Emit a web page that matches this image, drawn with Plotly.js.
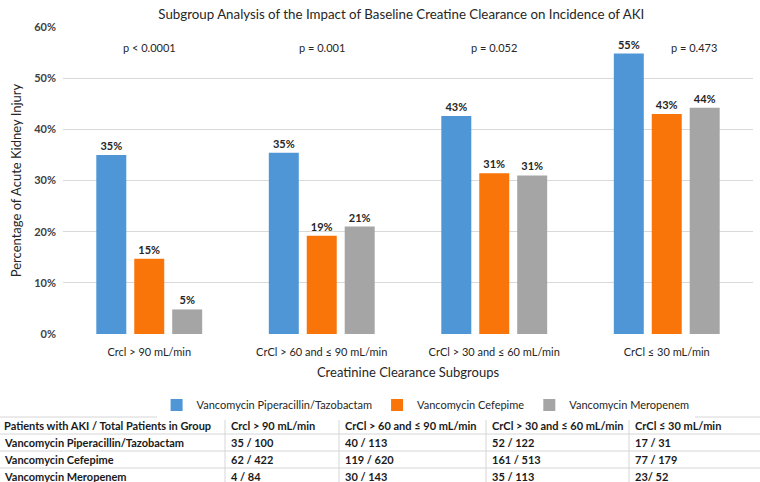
<!DOCTYPE html>
<html>
<head>
<meta charset="utf-8">
<script src="https://cdn.plot.ly/plotly-3.0.1.min.js"></script>
<style>html,body{margin:0;padding:0;background:#fff;}#chart{width:760px;height:482px;}</style>
</head>
<body>
<div id="chart"></div>
<script>
// Categories (x tick labels)
const categories = ["Crcl > 90 mL/min", "CrCl > 60 and \u2264 90 mL/min", "CrCl > 30 and \u2264 60 mL/min", "CrCl \u2264 30 mL/min"];
// Series names
const seriesNames = ["Vancomycin Piperacillin/Tazobactam", "Vancomycin Cefepime", "Vancomycin Meropenem"];
// Percentage of AKI per series
const pipTazPct = [35.0, 35.4, 42.6, 54.8];
const cefepimePct = [14.7, 19.2, 31.4, 43.0];
const meropenemPct = [4.8, 21.0, 31.0, 44.2];
// p-values per subgroup
const pValues = ["p < 0.0001", "p = 0.001", "p = 0.052", "p = 0.473"];
// Table contents
const tableCorner = "Patients with AKI / Total Patients in Group";
const pipTazCounts = ["35 / 100", "40 / 113", "52 / 122", "17 / 31"];
const cefepimeCounts = ["62 / 422", "119 / 620", "161 / 513", "77 / 179"];
const meropenemCounts = ["4 / 84", "30 / 143", "35 / 113", "23/ 52"];

const colors = ["#4f96d6", "#f97409", "#a5a5a5"];
const FONT = "Lato, 'Open Sans', sans-serif";
const W = 760, H = 482, MT = 27;
const allPct = [pipTazPct, cefepimePct, meropenemPct];

const traces = allPct.map((vals, i) => ({
  type: "bar",
  name: seriesNames[i],
  x: categories,
  y: vals,
  marker: {color: colors[i]},
  texttemplate: "%{y:.0f}%",
  textposition: "outside",
  cliponaxis: false,
  textfont: {family: FONT, size: 11, color: "#262626", weight: "bold"},
  hoverinfo: "skip"
}));

const annotations = pValues.map((p, i) => ({
  x: categories[i],
  y: 56,
  xref: "x",
  yref: "y",
  text: p,
  showarrow: false,
  xshift: i === 3 ? 27 : 0,
  font: {family: FONT, size: 11, color: "#262626"}
}));

// ---- table under the legend, built from the arrays above ----
const px = x => x / W;
const py = y => (H - y) / (H - MT);
const colEdges = [0, 225, 339, 486, 629, 760];   // layout (pixels)
const rowTop = 417, rowH = 17;
const countCols = [pipTazCounts, cefepimeCounts, meropenemCounts];
const tableRows = [[tableCorner].concat(categories)];
seriesNames.forEach((name, r) => {
  tableRows.push([name].concat(countCols[r]));
});
const shapes = [];
tableRows.forEach((row, r) => {
  row.forEach((txt, c) => {
    annotations.push({
      xref: "paper", yref: "paper",
      x: px(colEdges[c] + (c === 0 ? 2 : 4)),
      y: py(rowTop + r * rowH + rowH / 2),
      xanchor: "left", yanchor: "middle",
      text: txt, showarrow: false,
      font: {family: FONT, size: 11, color: "#1a1a1a", weight: "bold"}
    });
  });
});
for (let r = 0; r <= tableRows.length; r++) {
  const y = rowTop + r * rowH;
  shapes.push({type: "line", xref: "paper", yref: "paper", x0: 0, x1: 1, y0: py(y), y1: py(y),
               line: {color: "#d6d6d6", width: 1}});
}
for (let c = 1; c < colEdges.length - 1; c++) {
  shapes.push({type: "line", xref: "paper", yref: "paper", x0: px(colEdges[c]), x1: px(colEdges[c]),
               y0: py(rowTop), y1: py(rowTop + tableRows.length * rowH),
               line: {color: "#d6d6d6", width: 1}});
}

const layout = {
  width: W,
  height: H,
  margin: {l: 0, r: 0, t: MT, b: 0},
  paper_bgcolor: "#ffffff",
  plot_bgcolor: "#ffffff",
  font: {family: FONT, color: "#262626"},
  title: {
    text: "Subgroup Analysis of the Impact of Baseline Creatine Clearance on Incidence of AKI",
    x: 0.528, xanchor: "center",
    y: 1 - 14 / H, yref: "container", yanchor: "middle",
    font: {family: FONT, size: 13.3, color: "#262626"}
  },
  barmode: "group",
  bargap: 0.34,
  bargroupgap: 0.21,
  showlegend: true,
  legend: {
    orientation: "h",
    x: 0.56, xanchor: "center",
    y: py(405), yanchor: "middle",
    font: {family: FONT, size: 11, color: "#262626"},
    traceorder: "normal",
    itemwidth: 30
  },
  xaxis: {
    domain: [63 / W, 753 / W],
    anchor: "y",
    showgrid: false,
    showline: false,
    zeroline: false,
    ticks: "",
    ticklabelstandoff: 10,
    tickfont: {family: FONT, size: 11, color: "#262626"},
    title: {text: "Creatinine Clearance Subgroups", font: {family: FONT, size: 13, color: "#262626"}, standoff: 10},
    automargin: false
  },
  yaxis: {
    domain: [py(334), 1],
    anchor: "x",
    range: [0, 60],
    dtick: 10,
    ticksuffix: "%",
    showgrid: true,
    gridcolor: "#d9d9d9",
    gridwidth: 1,
    zeroline: false,
    showline: false,
    ticks: "",
    ticklabelstandoff: 6,
    tickfont: {family: FONT, size: 11, color: "#404040", weight: "bold"},
    title: {text: "Percentage of Acute Kidney Injury", font: {family: FONT, size: 13, color: "#262626"}, standoff: 9},
    automargin: false
  },
  annotations: annotations,
  shapes: shapes
};

Plotly.newPlot("chart", traces, layout, {displayModeBar: false, staticPlot: true});
</script>
</body>
</html>
